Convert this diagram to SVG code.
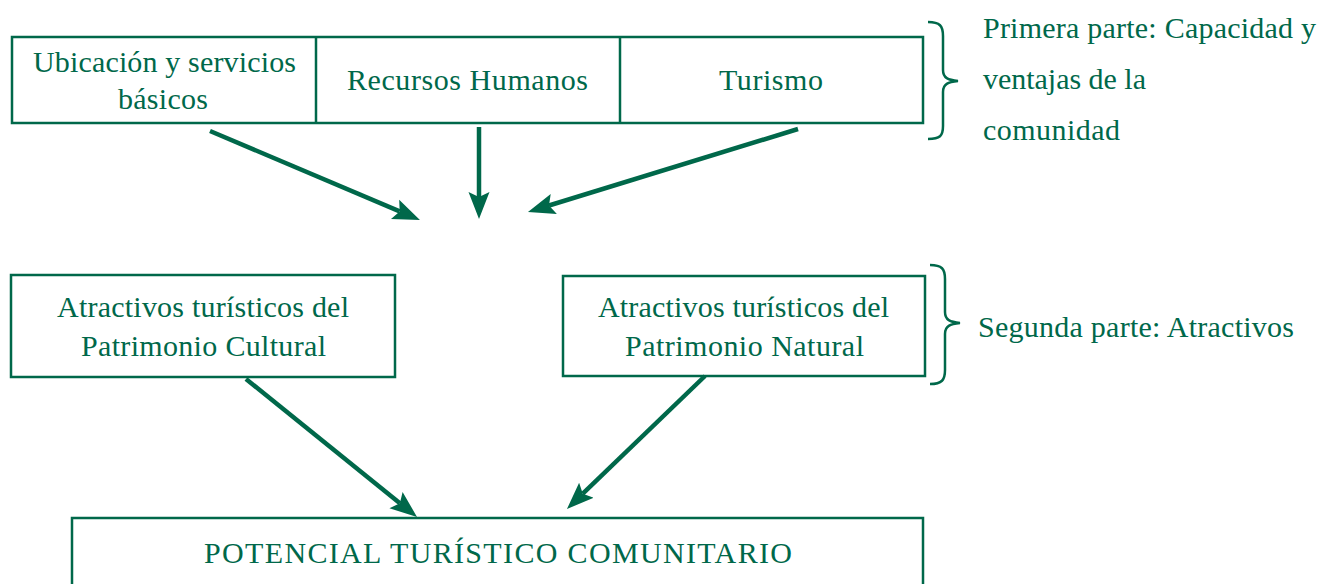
<svg xmlns="http://www.w3.org/2000/svg" width="1318" height="584" viewBox="0 0 1318 584">
<defs>
<style>
.box{fill:#fff;stroke:#00684a;stroke-width:2.5}
.t{font-family:"Liberation Serif","Times New Roman",serif;font-size:30px;fill:#00684a;text-anchor:middle}
.l{font-family:"Liberation Serif","Times New Roman",serif;font-size:30px;fill:#00684a}
.br{fill:none;stroke:#00684a;stroke-width:2.5}
.ar{fill:none;stroke:#00684a;stroke-width:4.5}
</style>
<marker id="ah" markerUnits="userSpaceOnUse" markerWidth="30" markerHeight="24" viewBox="0 -12 30 24" refX="5" refY="0" orient="auto">
<path d="M27,0 L0,-10.5 L5,0 L0,10.5 Z" fill="#00684a"/>
</marker>
</defs>
<g id="top-row">
<rect class="box" x="12" y="37" width="911" height="86"/>
<line class="box" x1="316" y1="37" x2="316" y2="123"/>
<line class="box" x1="620" y1="37" x2="620" y2="123"/>
</g>
<g id="n-ubicacion">
<text class="t" x="164.5" y="72" textLength="263" lengthAdjust="spacing">Ubicación y servicios</text>
<text class="t" x="163" y="109" textLength="90" lengthAdjust="spacing">básicos</text>
</g>
<g id="n-recursos">
<text class="t" x="467.5" y="90" textLength="241" lengthAdjust="spacing">Recursos Humanos</text>
</g>
<g id="n-turismo">
<text class="t" x="771" y="90" textLength="104" lengthAdjust="spacing">Turismo</text>
</g>
<g id="brace1">
<path class="br" d="M928,22 C940,22 943,26 943,36 L943,70 C943,78 948,80 958,81 C948,82 943,84 943,92 L943,126 C943,136 940,139 928,139"/>
<text class="l" x="983" y="38" textLength="333" lengthAdjust="spacing">Primera parte: Capacidad y</text>
<text class="l" x="983" y="89" textLength="163" lengthAdjust="spacing">ventajas de la</text>
<text class="l" x="983" y="140" textLength="137" lengthAdjust="spacing">comunidad</text>
</g>
<g id="n-cultural">
<rect class="box" x="11" y="275" width="384" height="102"/>
<text class="t" x="203" y="317" textLength="292" lengthAdjust="spacing">Atractivos turísticos del</text>
<text class="t" x="203.5" y="356" textLength="245" lengthAdjust="spacing">Patrimonio Cultural</text>
</g>
<g id="n-natural">
<rect class="box" x="563" y="276" width="362" height="100"/>
<text class="t" x="743.5" y="317" textLength="291" lengthAdjust="spacing">Atractivos turísticos del</text>
<text class="t" x="744.5" y="356" textLength="239" lengthAdjust="spacing">Patrimonio Natural</text>
</g>
<g id="brace2">
<path class="br" d="M930,265 C942,265 945,269 945,279 L945,312 C945,320 950,322 960,323 C950,324 945,326 945,334 L945,370 C945,380 942,384 930,384"/>
<text class="l" x="978" y="337" textLength="316" lengthAdjust="spacing">Segunda parte: Atractivos</text>
</g>
<g id="n-potencial">
<rect class="box" x="72" y="518" width="851" height="80"/>
<text class="t" x="498" y="563" textLength="588" lengthAdjust="spacing">POTENCIAL TURÍSTICO COMUNITARIO</text>
</g>
<g id="connectors">
<line class="ar" x1="210" y1="131" x2="399.7" y2="211.4" marker-end="url(#ah)"/>
<line class="ar" x1="479" y1="127" x2="479" y2="197" marker-end="url(#ah)"/>
<line class="ar" x1="798" y1="129" x2="549" y2="205.5" marker-end="url(#ah)"/>
<line class="ar" x1="246" y1="379" x2="399.9" y2="503.2" marker-end="url(#ah)"/>
<line class="ar" x1="705" y1="376" x2="582.8" y2="493.7" marker-end="url(#ah)"/>
</g>
</svg>
